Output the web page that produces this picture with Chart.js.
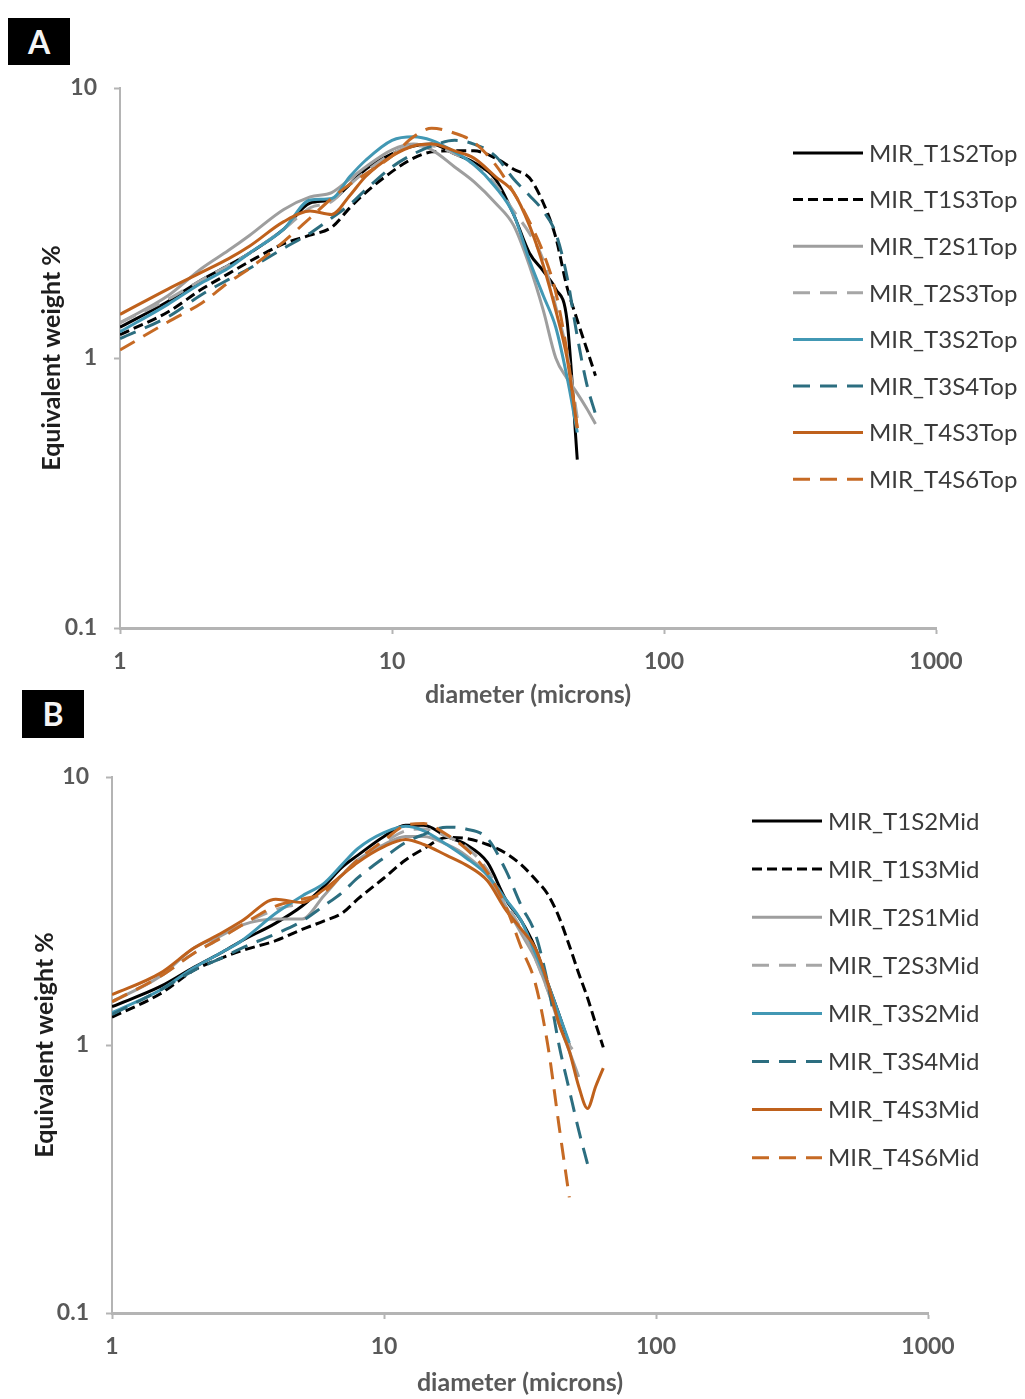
<!DOCTYPE html>
<html>
<head>
<meta charset="utf-8">
<script src="https://cdn.jsdelivr.net/npm/chart.js@4.4.1/dist/chart.umd.min.js"></script>
<style>
  body { margin: 0; background: #fff; width: 1025px; height: 1399px; position: relative; overflow: hidden; }
  canvas { position: absolute; left: 0; }
  .tag { position: absolute; z-index: 2; background: #000; color: #f4f4f4; font: bold 32px Lato, sans-serif; text-align: center; }
</style>
</head>
<body>
<div class="tag" style="left:8px;top:18px;width:62px;height:47px;line-height:47px">A</div>
<canvas id="chartTop" width="1025" height="720" style="top:0"></canvas>
<div class="tag" style="left:22px;top:690px;width:62px;height:48px;line-height:48px">B</div>
<canvas id="chartMid" width="1025" height="709" style="top:690px"></canvas>
<script>
// particle diameter bins (microns) shared by all samples
var diameters = [1, 1.5, 2, 2.5, 3, 4, 5, 6, 7, 8, 10, 12, 14, 17, 20, 24, 28, 32, 36, 40, 44, 48, 52, 56, 60, 64];
var xTicks = [1, 10, 100, 1000];
var yTicks = [0.1, 1, 10];

// ---- Top samples (equivalent weight %) ----
var t1s2Top = [1.3, 1.62, 1.95, 2.2, 2.45, 3.0, 3.75, 3.85, 4.4, 5.0, 5.7, 6.1, 6.2, 5.7, 5.3, 4.6, 3.4, 2.45, 2.1, 1.8, 1.38, 0.42];
var t1s3Top = [1.22, 1.48, 1.8, 2.05, 2.28, 2.65, 2.85, 3.05, 3.6, 4.1, 4.9, 5.5, 5.8, 5.85, 5.85, 5.5, 5.0, 4.65, 3.75, 2.8, 1.83, 1.38, 1.08, 0.86];
var t2s1Top = [1.35, 1.7, 2.15, 2.5, 2.85, 3.55, 3.95, 4.1, 4.6, 5.1, 5.9, 6.2, 5.9, 5.1, 4.5, 3.75, 3.1, 2.2, 1.5, 1.0, 0.84, 0.74, 0.65, 0.57];
var t2s3Top = [1.35, 1.65, 1.95, 2.2, 2.45, 3.0, 3.6, 3.8, 4.4, 4.9, 5.7, 6.1, 6.1, 5.7, 5.2, 4.4, 3.5, 2.9, 2.3, 1.55, 1.05, 0.6];
var t3s2Top = [1.25, 1.58, 1.9, 2.15, 2.45, 3.0, 3.85, 3.9, 4.7, 5.4, 6.4, 6.6, 6.4, 5.8, 5.2, 4.3, 3.4, 2.3, 1.7, 1.3, 0.85, 0.53];
var t3s4Top = [1.18, 1.42, 1.72, 1.95, 2.15, 2.55, 2.9, 3.3, 3.7, 4.2, 5.1, 5.7, 6.1, 6.4, 6.2, 5.6, 4.6, 4.0, 3.5, 2.9, 2.0, 1.2, 0.8, 0.62];
var t4s3Top = [1.45, 1.8, 2.08, 2.33, 2.6, 3.2, 3.5, 3.4, 4.0, 4.7, 5.6, 6.1, 6.2, 5.85, 5.5, 4.7, 4.1, 3.1, 2.2, 1.5, 1.0, 0.55];
var t4s6Top = [1.07, 1.36, 1.6, 1.9, 2.15, 2.7, 3.3, 3.9, 4.4, 4.8, 5.6, 6.6, 7.1, 6.8, 6.3, 5.2, 4.1, 3.2, 2.45, 1.75, 1.05, 0.55];
var topNames = ['MIR_T1S2Top', 'MIR_T1S3Top', 'MIR_T2S1Top', 'MIR_T2S3Top', 'MIR_T3S2Top', 'MIR_T3S4Top', 'MIR_T4S3Top', 'MIR_T4S6Top'];

// ---- Mid samples ----
var t1s2Mid = [1.39, 1.65, 1.95, 2.2, 2.45, 2.85, 3.3, 3.9, 4.6, 5.1, 6.0, 6.6, 6.6, 6.0, 5.6, 4.8, 3.5, 2.9, 2.3, 1.7, 1.3, 1.0];
var t1s3Mid = [1.27, 1.55, 1.9, 2.1, 2.25, 2.45, 2.7, 2.9, 3.1, 3.5, 4.2, 4.9, 5.4, 5.95, 5.9, 5.6, 5.2, 4.7, 4.15, 3.65, 3.0, 2.35, 1.85, 1.5, 1.2, 0.98];
var t2s1Mid = [1.45, 1.8, 2.3, 2.55, 2.8, 2.95, 2.95, 3.6, 4.3, 4.9, 5.6, 6.0, 6.0, 5.6, 5.1, 4.3, 3.3, 2.6, 2.1, 1.6, 1.2, 0.95, 0.76];
var t2s3Mid = [1.45, 1.8, 2.2, 2.5, 2.8, 3.2, 3.4, 3.7, 4.3, 4.9, 5.7, 6.3, 6.4, 6.0, 5.5, 4.5, 3.4, 2.7, 2.1, 1.6, 1.25, 1.0, 0.92];
var t3s2Mid = [1.32, 1.6, 1.94, 2.2, 2.45, 3.1, 3.6, 4.0, 4.7, 5.4, 6.2, 6.55, 6.3, 5.6, 5.0, 4.3, 3.5, 2.9, 2.2, 1.7, 1.3, 1.02];
var t3s4Mid = [1.3, 1.6, 1.9, 2.1, 2.3, 2.6, 2.9, 3.3, 3.7, 4.2, 5.0, 5.7, 6.1, 6.5, 6.4, 5.9, 4.5, 3.3, 2.6, 1.7, 1.0, 0.68, 0.48, 0.36];
var t4s3Mid = [1.54, 1.85, 2.3, 2.6, 2.9, 3.5, 3.4, 3.8, 4.3, 4.8, 5.5, 5.85, 5.6, 5.1, 4.7, 4.1, 3.2, 2.7, 2.3, 1.7, 1.2, 0.95, 0.7, 0.58, 0.7, 0.82];
var t4s6Mid = [1.45, 1.8, 2.2, 2.5, 2.8, 3.3, 3.5, 3.7, 4.3, 4.9, 5.8, 6.6, 6.7, 6.1, 5.4, 4.4, 3.3, 2.3, 1.7, 1.0, 0.5, 0.27];
var midNames = ['MIR_T1S2Mid', 'MIR_T1S3Mid', 'MIR_T2S1Mid', 'MIR_T2S3Mid', 'MIR_T3S2Mid', 'MIR_T3S4Mid', 'MIR_T4S3Mid', 'MIR_T4S6Mid'];

// line look, same order as the names
var lineStyles = [
  { color: '#000000', dash: [] },
  { color: '#000000', dash: [10, 5] },
  { color: '#9e9e9e', dash: [] },
  { color: '#a6a6a6', dash: [17, 10] },
  { color: '#4298b4', dash: [] },
  { color: '#2c6e80', dash: [17, 10] },
  { color: '#bf611c', dash: [] },
  { color: '#c66a24', dash: [17, 10] }
];

var FONT = 'Lato, sans-serif';
var GREY_AXIS = '#b4b4b4';

// legend drawn as line samples on the right side of the plot
var sideLegend = {
  id: 'sideLegend',
  afterDraw: function (chart, args, opts) {
    var ctx = chart.ctx;
    ctx.save();
    chart.data.datasets.forEach(function (ds, i) {
      var y = opts.top + i * opts.gap;
      ctx.beginPath();
      ctx.setLineDash(ds.borderDash);
      ctx.strokeStyle = ds.borderColor;
      ctx.lineWidth = 3;
      ctx.moveTo(opts.left, y);
      ctx.lineTo(opts.left + 70, y);
      ctx.stroke();
      ctx.setLineDash([]);
      ctx.fillStyle = '#3b3b3b';
      ctx.font = '24px ' + FONT;
      ctx.textBaseline = 'middle';
      ctx.fillText(ds.label, opts.left + 76, y + 1);
    });
    ctx.restore();
  }
};

function toPoints(vals) {
  return vals.map(function (v, i) { return { x: diameters[i], y: v }; });
}

function makeChart(id, names, series, g) {
  var datasets = series.map(function (vals, i) {
    return {
      label: names[i],
      data: toPoints(vals),
      borderColor: lineStyles[i].color,
      borderDash: lineStyles[i].dash,
      borderWidth: 3,
      pointRadius: 0,
      fill: false,
      cubicInterpolationMode: 'monotone',
      order: series.length - 1 - i
    };
  });

  return new Chart(document.getElementById(id), {
    type: 'line',
    data: { datasets: datasets },
    plugins: [sideLegend],
    options: {
      responsive: false,
      animation: false,
      layout: { padding: { top: g.padTop, right: g.padRight, left: 0, bottom: 0 } },
      plugins: {
        legend: { display: false },
        tooltip: { enabled: false },
        sideLegend: { left: g.legLeft, top: g.legTop, gap: g.legGap }
      },
      scales: {
        x: {
          type: 'logarithmic',
          min: 1,
          max: 1000,
          afterBuildTicks: function (s) { s.ticks = xTicks.map(function (v) { return { value: v }; }); },
          afterFit: function (s) { s.height = g.xHeight; },
          ticks: {
            autoSkip: false,
            maxRotation: 0,
            padding: 14,
            color: '#595959',
            font: { family: FONT, size: 23, weight: 'bold' },
            callback: function (v) { return String(v); }
          },
          grid: { drawOnChartArea: false, drawTicks: true, tickLength: 6, tickColor: GREY_AXIS, tickWidth: 2 },
          border: { display: true, color: GREY_AXIS, width: 3 },
          title: {
            display: true,
            text: 'diameter (microns)',
            color: '#595959',
            font: { family: FONT, size: 25, weight: 'bold' },
            padding: { top: 0, bottom: g.xTitlePad }
          }
        },
        y: {
          type: 'logarithmic',
          min: 0.1,
          max: 10,
          afterBuildTicks: function (s) { s.ticks = yTicks.map(function (v) { return { value: v }; }); },
          afterFit: function (s) { s.width = g.yWidth; },
          ticks: {
            autoSkip: false,
            padding: 17,
            color: '#595959',
            font: { family: FONT, size: 23, weight: 'bold' },
            callback: function (v) { return String(v); }
          },
          grid: { drawOnChartArea: false, drawTicks: true, tickLength: 6, tickColor: GREY_AXIS, tickWidth: 2 },
          border: { display: true, color: GREY_AXIS, width: 2 },
          title: {
            display: true,
            text: 'Equivalent weight %',
            color: '#1e1e1e',
            font: { family: FONT, size: 25, weight: 'bold' },
            padding: { top: g.yTitlePad, bottom: 0 }
          }
        }
      }
    }
  });
}

makeChart('chartTop', topNames,
  [t1s2Top, t1s3Top, t2s1Top, t2s3Top, t3s2Top, t3s4Top, t4s3Top, t4s6Top],
  { padTop: 88, padRight: 89, xHeight: 92, yWidth: 120, xTitlePad: 10, yTitlePad: 37,
    legLeft: 793, legTop: 153, legGap: 46.6 });

makeChart('chartMid', midNames,
  [t1s2Mid, t1s3Mid, t2s1Mid, t2s3Mid, t3s2Mid, t3s4Mid, t4s3Mid, t4s6Mid],
  { padTop: 87, padRight: 97, xHeight: 86, yWidth: 112, xTitlePad: 1, yTitlePad: 30,
    legLeft: 752, legTop: 131, legGap: 48.1 });
</script>
</body>
</html>
